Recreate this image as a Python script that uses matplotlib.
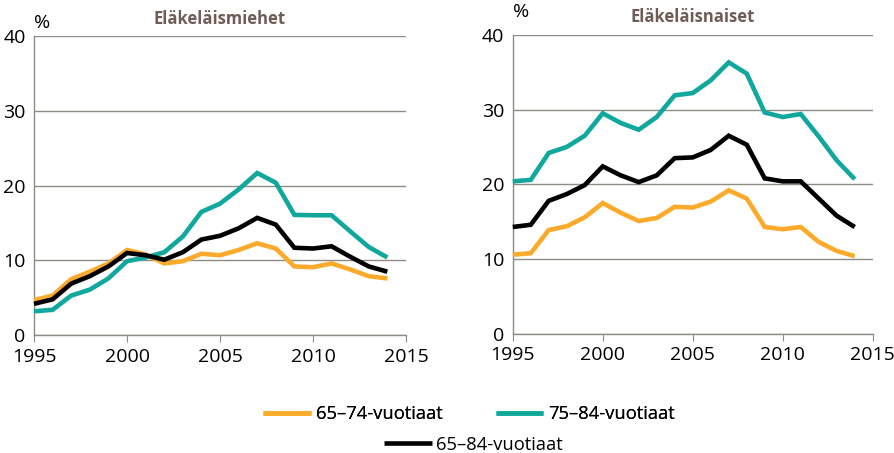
import matplotlib
matplotlib.use("Agg")
import matplotlib.pyplot as plt
import numpy as np

plt.rcParams['font.family'] = ['Open Sans', 'DejaVu Sans']

years = np.arange(1995, 2015)

# Eläkeläismiehet, %
men_65_74 = [4.7, 5.3, 7.5, 8.5, 9.6, 11.4, 10.8, 9.6, 9.9, 10.9,
             10.7, 11.4, 12.3, 11.6, 9.2, 9.1, 9.6, 8.8, 7.9, 7.6]
men_75_84 = [3.2, 3.4, 5.3, 6.1, 7.6, 9.9, 10.4, 11.1, 13.2, 16.5,
             17.6, 19.5, 21.7, 20.4, 16.1, 16.05, 16.05, 13.9, 11.8, 10.4]
men_65_84 = [4.2, 4.8, 6.9, 7.9, 9.2, 11.0, 10.7, 10.1, 11.1, 12.8,
             13.3, 14.3, 15.7, 14.8, 11.7, 11.6, 11.9, 10.5, 9.2, 8.5]

# Eläkeläisnaiset, %
women_65_74 = [10.6, 10.8, 13.9, 14.4, 15.6, 17.5, 16.2, 15.1, 15.5, 17.0,
               16.9, 17.7, 19.2, 18.1, 14.3, 14.0, 14.3, 12.3, 11.1, 10.4]
women_75_84 = [20.4, 20.6, 24.2, 25.0, 26.5, 29.5, 28.2, 27.3, 29.0, 31.9,
               32.2, 33.9, 36.3, 34.8, 29.6, 29.0, 29.4, 26.4, 23.2, 20.7]
women_65_84 = [14.3, 14.6, 17.8, 18.7, 19.9, 22.4, 21.2, 20.3, 21.2, 23.5,
               23.6, 24.6, 26.5, 25.3, 20.8, 20.4, 20.4, 18.1, 15.8, 14.3]

labels = ["65\u201374-vuotiaat", "75\u201384-vuotiaat", "65\u201384-vuotiaat"]
colors = ["#fbaa2c", "#10a89d", "#000000"]
titles = ["Eläkeläismiehet", "Eläkeläisnaiset"]

grid_col = "#8c8c84"
title_col = "#6e5c55"

fig = plt.figure(figsize=(8.95, 4.53), dpi=100)
ax1 = fig.add_axes([0.038, 0.260, 0.4156, 0.660])
ax2 = fig.add_axes([0.5729, 0.2627, 0.4022, 0.6607])

panels = [(ax1, [men_65_74, men_75_84, men_65_84], 1.015),
          (ax2, [women_65_74, women_75_84, women_65_84], 1.045)]

handles = []
for i, (ax, series, pct_y) in enumerate(panels):
    for vals, col, lab in zip(series, colors, labels):
        ln, = ax.plot(years, vals, color=col, lw=3.3, label=lab,
                      solid_joinstyle="miter", solid_capstyle="butt",
                      clip_on=False, zorder=3)
        if i == 0:
            handles.append(ln)

    ax.set_xlim(1995, 2015)
    ax.set_ylim(0, 40)
    ax.set_xticks([1995, 2000, 2005, 2010, 2015])
    ax.set_yticks([0, 10, 20, 30, 40])
    ax.yaxis.grid(True, color=grid_col, lw=1.0)
    ax.set_axisbelow(True)
    for s in ["top", "right"]:
        ax.spines[s].set_visible(False)
    for s in ["left", "bottom"]:
        ax.spines[s].set_color(grid_col)
        ax.spines[s].set_linewidth(1.0)
    ax.tick_params(axis="x", direction="out", length=5, color=grid_col,
                   labelsize=14, pad=4)
    ax.tick_params(axis="y", length=0, labelsize=14, pad=6)
    ax.set_title(titles[i], fontsize=12, fontweight="bold", color=title_col,
                 pad=9)
    ax.text(0.0, pct_y, "%", transform=ax.transAxes, fontsize=14,
            ha="left", va="bottom")

# legend: two entries on the first row, one on the second
leg1 = fig.legend(handles[:2], labels[:2], loc="center",
                  bbox_to_anchor=(0.524, 0.085), ncol=2, frameon=False,
                  fontsize=13.2, handlelength=2.6, handletextpad=0.25,
                  columnspacing=2.9)
fig.add_artist(leg1)
fig.legend(handles[2:], labels[2:], loc="center",
           bbox_to_anchor=(0.529, 0.018), frameon=False,
           fontsize=13.2, handlelength=2.6, handletextpad=0.25)

fig.savefig("out.png", dpi=100)
